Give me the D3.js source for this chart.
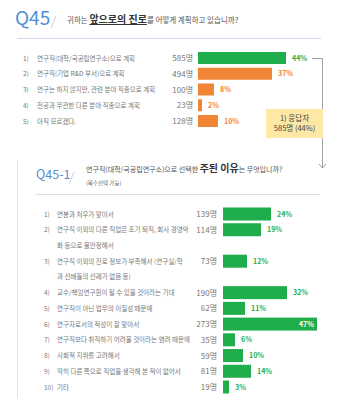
<!DOCTYPE html>
<html><head><meta charset="utf-8">
<script src="https://cdn.jsdelivr.net/npm/d3@7"></script>
<style>
html,body{margin:0;padding:0;background:#fff;}
svg{display:block;font-family:"Noto Sans CJK KR","Noto Sans",sans-serif;}
</style></head>
<body>
<svg id="chart" width="340" height="409"></svg>
<script>
// ---- Data ----
const q1Labels = ["연구직(대학/국공립연구소)으로  계획","연구직(기업 R&D 부서)으로 계획","연구는 하지 않지만, 관련 분야 직종으로 계획","전공과 무관한 다른 분야 직종으로 계획","아직 모르겠다."];
const q1Counts = [585,494,100,23,128];
const q1Pcts = [44,37,8,2,10];

const q2Labels = [
  ["연봉과 처우가 맞아서"],
  ["연구직 이외의 다른 직업은 조기 퇴직, 회사 경영악","화 등으로 불안정해서"],
  ["연구직 이외의 진로 정보가 부족해서 (연구실/학","과 선배들의 선례가 없음 등)"],
  ["교수/책임연구원이 될 수 있을 것이라는 기대"],
  ["연구직이 아닌 업무의 이질성 때문에"],
  ["연구자로서의 적성이 잘 맞아서"],
  ["연구직보다 취직하기 어려울 것이라는 염려 때문에"],
  ["사회적 지위를 고려해서"],
  ["딱히 다른 쪽으로 직업을 생각해 본 적이 없어서"],
  ["기타"]
];
const q2Counts = [139,114,73,190,62,273,35,59,81,19];
const q2Pcts = [24,19,12,32,11,47,6,10,14,3];

const calloutLines = ["1) 응답자","585명 (44%)"];

// ---- Drawing ----
const svg = d3.select("#chart");
const GREEN = "#1fae4b", ORANGE = "#ef8535", BLUE = "#4d8fd6", GRAY = "#777";
const LFS = 6.5;

// Header Q45
svg.append("text").attr("x",15).attr("y",25).attr("font-size",19).attr("fill",BLUE).text("Q45");
svg.append("line").attr("x1",56).attr("y1",16).attr("x2",51).attr("y2",28).attr("stroke","#b8c8dc").attr("stroke-width",0.8);
const qt = svg.append("text").attr("x",67).attr("y",23).attr("font-size",7.5).attr("fill","#555");
qt.append("tspan").text("귀하는 ");
qt.append("tspan").attr("font-size",10).attr("font-weight","bold").attr("fill","#333").attr("text-decoration","underline").text("앞으로의 진로");
qt.append("tspan").text("를 어떻게 계획하고 있습니까?");
svg.append("line").attr("x1",17).attr("x2",321).attr("y1",38.5).attr("y2",38.5).attr("stroke","#cfdbe8").attr("stroke-width",1.2);

// Section 1 bars
const x1 = d3.scaleLinear().domain([0,100]).range([0,200]);
const y1 = d3.scalePoint().domain(d3.range(q1Labels.length)).range([58,121]);
const barH = 12;
const g1 = svg.append("g");
q1Labels.forEach((lab,i)=>{
  const cy = y1(i);
  g1.append("text").attr("x",23).attr("y",cy+2.5).attr("font-size",LFS).attr("fill",GRAY).text((i+1)+")");
  g1.append("text").attr("x",37).attr("y",cy+2.5).attr("font-size",LFS).attr("fill",GRAY).text(lab);
  g1.append("text").attr("x",193).attr("y",cy+3).attr("text-anchor","end").attr("font-size",8).attr("fill",GRAY).text(q1Counts[i]+"명");
  const col = i===0?GREEN:ORANGE;
  g1.append("rect").attr("x",198).attr("y",cy-barH/2).attr("width",x1(q1Pcts[i])).attr("height",barH).attr("fill",col);
  g1.append("text").attr("x",198+x1(q1Pcts[i])+6).attr("y",cy+2.5).attr("font-size",7).attr("font-weight","bold").attr("fill",col).text(q1Pcts[i]+"%");
});

// Connector + callout
svg.append("path").attr("d","M312,58.5H322.5V109").attr("fill","none").attr("stroke","#888").attr("stroke-width",0.8);
svg.append("rect").attr("x",266).attr("y",109).attr("width",57).attr("height",29).attr("fill","#fde8a6");
calloutLines.forEach((t,i)=>{
  svg.append("text").attr("x",294.5).attr("y",121+i*9.5).attr("text-anchor","middle").attr("font-size",7.5).attr("fill","#444").text(t);
});
svg.append("line").attr("x1",322.5).attr("x2",322.5).attr("y1",138).attr("y2",168).attr("stroke","#888").attr("stroke-width",0.8);
svg.append("path").attr("d","M319,164L322.5,168L326,164").attr("fill","none").attr("stroke","#888").attr("stroke-width",0.8);

// Section 2 frame
svg.append("line").attr("x1",17.5).attr("x2",17.5).attr("y1",160).attr("y2",398).attr("stroke","#dde3ea").attr("stroke-width",1);
svg.append("text").attr("x",36).attr("y",179).attr("font-size",12.5).attr("fill","#5a8cc8").text("Q45-1");
svg.append("line").attr("x1",74).attr("y1",172).attr("x2",69).attr("y2",184).attr("stroke","#b8c8dc").attr("stroke-width",0.8);
const qt2 = svg.append("text").attr("x",86).attr("y",172).attr("font-size",7).attr("fill","#555");
qt2.append("tspan").text("연구직(대학/국공립연구소)으로  선택한 ");
qt2.append("tspan").attr("font-size",10).attr("font-weight","bold").attr("fill","#333").text("주된 이유");
qt2.append("tspan").text("는 무엇입니까?");
svg.append("text").attr("x",86).attr("y",185).attr("font-size",5.5).attr("fill","#666").text("(복수선택 가능)");
svg.append("line").attr("x1",36).attr("x2",320).attr("y1",194.5).attr("y2",194.5).attr("stroke","#d5dde6").attr("stroke-width",1);

// Section 2 bars
const x2 = d3.scaleLinear().domain([0,100]).range([0,200]);
let slot = 0;
const slots = q2Labels.map(l=>{ const s = slot; slot += l.length; return s; });
const yS = d3.scaleLinear().domain([0,11]).range([214,387]);
const g2 = svg.append("g");
q2Labels.forEach((lines,i)=>{
  const cy = yS(slots[i]);
  g2.append("text").attr("x",44).attr("y",cy+2.5).attr("font-size",LFS).attr("fill",GRAY).text((i+1)+")");
  lines.forEach((ln,j)=>{
    g2.append("text").attr("x",57).attr("y",yS(slots[i]+j)+2.5).attr("font-size",LFS).attr("fill",GRAY).text(ln);
  });
  g2.append("text").attr("x",217).attr("y",cy+3).attr("text-anchor","end").attr("font-size",8).attr("fill",GRAY).text(q2Counts[i]+"명");
  const w = x2(q2Pcts[i]);
  g2.append("rect").attr("x",223).attr("y",cy-6.5).attr("width",w).attr("height",13).attr("fill",GREEN);
  if (q2Pcts[i] >= 40) {
    g2.append("text").attr("x",223+w-3).attr("y",cy+2.5).attr("text-anchor","end").attr("font-size",7).attr("font-weight","bold").attr("fill","#fff").text(q2Pcts[i]+"%");
  } else {
    g2.append("text").attr("x",223+w+6).attr("y",cy+2.5).attr("font-size",7).attr("font-weight","bold").attr("fill",GREEN).text(q2Pcts[i]+"%");
  }
});
</script>
</body></html>
